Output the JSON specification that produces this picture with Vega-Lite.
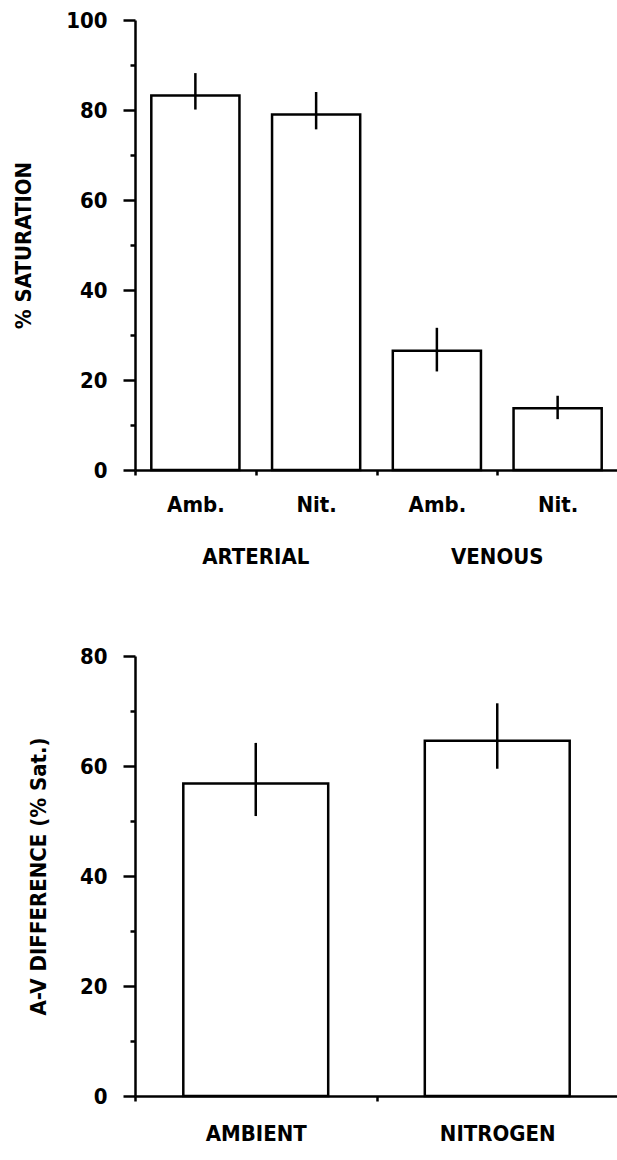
{
  "$schema": "https://vega.github.io/schema/vega-lite/v6.json",
  "background": "white",
  "padding": {"top": 9, "left": 12, "right": 0, "bottom": 0},
  "spacing": 78,
  "config": {
    "view": {"stroke": null},
    "font": "DejaVu Sans Condensed, DejaVu Sans, sans-serif",
    "axis": {
      "grid": false,
      "labelFont": "DejaVu Sans Condensed, DejaVu Sans, sans-serif",
      "titleFont": "DejaVu Sans Condensed, DejaVu Sans, sans-serif",
      "labelFontSize": 22,
      "titleFontSize": 22,
      "labelFontWeight": "bold",
      "titleFontWeight": "bold",
      "labelColor": "black",
      "titleColor": "black",
      "domainColor": "black",
      "tickColor": "black",
      "domainWidth": 2.5,
      "tickWidth": 2.5
    }
  },
  "vconcat": [
    {
      "width": 483,
      "height": 450,
      "data": {"values": [
        {"cat": "ARTERIAL|Amb.", "group": "ARTERIAL", "mean": 83.2, "lo": 80.1, "hi": 88.2},
        {"cat": "ARTERIAL|Nit.", "group": "ARTERIAL", "mean": 79.0, "lo": 75.7, "hi": 84.0},
        {"cat": "VENOUS|Amb.", "group": "VENOUS", "mean": 26.5, "lo": 21.9, "hi": 31.6},
        {"cat": "VENOUS|Nit.", "group": "VENOUS", "mean": 13.7, "lo": 11.3, "hi": 16.5}
      ]},
      "layer": [
        {
          "layer": [
            {
              "mark": {"type": "bar", "fill": "white", "stroke": "black", "strokeWidth": 2.5, "width": {"band": 0.73}},
              "encoding": {
                "x": {"field": "cat", "type": "nominal", "sort": null,
                  "scale": {"type": "band", "paddingInner": 0, "paddingOuter": 0},
                  "axis": {"orient": "bottom", "title": null, "labelAngle": 0, "tickBand": "extent", "tickSize": 5, "labelPadding": 19,
                    "labelExpr": "split(datum.label, '|')[1]"}},
                "y": {"field": "mean", "type": "quantitative",
                  "scale": {"domain": [0, 100], "nice": false},
                  "axis": {"title": "% SATURATION", "values": [0, 10, 20, 30, 40, 50, 60, 70, 80, 90, 100],
                    "labelExpr": "datum.value % 20 === 0 ? datum.label : ''",
                    "tickSize": {"condition": {"test": "datum.value % 20 === 0", "value": 12}, "value": 5},
                    "labelPadding": 16, "titlePadding": 30}}
              }
            },
            {
              "mark": {"type": "rule", "color": "black", "strokeWidth": 2.5},
              "encoding": {
                "x": {"field": "cat", "type": "nominal", "sort": null},
                "y": {"field": "lo", "type": "quantitative"},
                "y2": {"field": "hi"}
              }
            }
          ]
        },
        {
          "mark": {"type": "text", "text": ""},
          "encoding": {
            "x": {"field": "group", "type": "nominal", "sort": null,
              "scale": {"type": "band", "paddingInner": 0, "paddingOuter": 0},
              "axis": {"orient": "bottom", "title": null, "labelAngle": 0, "ticks": false, "tickSize": 0, "domain": false, "labelPadding": 76}}
          }
        }
      ],
      "resolve": {"scale": {"x": "independent"}, "axis": {"x": "independent"}}
    },
    {
      "width": 483,
      "height": 440,
      "data": {"values": [
        {"cond": "AMBIENT", "mean": 56.8, "lo": 50.9, "hi": 64.2},
        {"cond": "NITROGEN", "mean": 64.6, "lo": 59.5, "hi": 71.4}
      ]},
      "layer": [
        {
          "mark": {"type": "bar", "fill": "white", "stroke": "black", "strokeWidth": 2.5, "width": {"band": 0.6}},
          "encoding": {
            "x": {"field": "cond", "type": "nominal", "sort": null,
              "scale": {"type": "band", "paddingInner": 0, "paddingOuter": 0},
              "axis": {"title": null, "labelAngle": 0, "tickBand": "extent", "tickSize": 5, "labelPadding": 22}},
            "y": {"field": "mean", "type": "quantitative",
              "scale": {"domain": [0, 80], "nice": false},
              "axis": {"title": "A-V DIFFERENCE (% Sat.)", "values": [0, 10, 20, 30, 40, 50, 60, 70, 80],
                "labelExpr": "datum.value % 20 === 0 ? datum.label : ''",
                "tickSize": {"condition": {"test": "datum.value % 20 === 0", "value": 12}, "value": 5},
                "labelPadding": 16, "titlePadding": 29}}
          }
        },
        {
          "mark": {"type": "rule", "color": "black", "strokeWidth": 2.5},
          "encoding": {
            "x": {"field": "cond", "type": "nominal", "sort": null},
            "y": {"field": "lo", "type": "quantitative"},
            "y2": {"field": "hi"}
          }
        }
      ]
    }
  ]
}
